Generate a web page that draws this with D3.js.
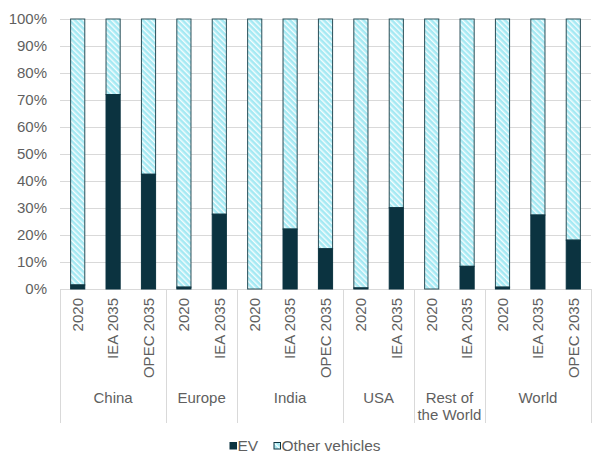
<!DOCTYPE html>
<html><head><meta charset="utf-8">
<script src="https://cdn.jsdelivr.net/npm/d3@7"></script>
<style>body{margin:0;background:#fff}svg{display:block;font-family:"Liberation Sans",Arial,sans-serif}</style>
</head><body><svg id="c" width="614" height="466"></svg>
<script>
const groups = ["China","Europe","India","USA","Rest of the World","World"];
const groupBars = [["2020","IEA 2035","OPEC 2035"],["2020","IEA 2035"],["2020","IEA 2035","OPEC 2035"],["2020","IEA 2035"],["2020","IEA 2035"],["2020","IEA 2035","OPEC 2035"]];
const evShare = [1.5,72,42.5, 0.7,27.7, 0,22.2,14.9, 0.4,30.1, 0,8.4, 0.7,27.4,18.1];
const yTicks = [0,10,20,30,40,50,60,70,80,90,100];
const seriesNames = ["EV","Other vehicles"];

const bars = [];
groups.forEach((g,gi)=>groupBars[gi].forEach(l=>bars.push({g,gi,label:l,id:g+"|"+l})));
bars.forEach((b,i)=>{b.ev=evShare[i];b.other=100-evShare[i];});

const svg = d3.select("#c");
const L=60,R=591,T=19,B=289;
const x = d3.scaleBand().domain(bars.map(b=>b.id)).range([L,R]).paddingInner(0.6).paddingOuter(0.3);
const y = d3.scaleLinear().domain([0,100]).range([B,T]);
const evColor="#0b3340", otherColor="#a5e9f3", textColor="#5f5f5f", gridColor="#d9d9d9";
const fs=15;

const defs=svg.append("defs");
const pat=defs.append("pattern").attr("id","hatch").attr("patternUnits","userSpaceOnUse")
 .attr("width",4).attr("height",4).attr("patternTransform","rotate(-45)");
pat.append("rect").attr("width",4).attr("height",4).attr("fill",otherColor);
pat.append("rect").attr("width",1.4).attr("height",4).attr("fill","#ffffff").attr("opacity",0.9);

// gridlines
svg.append("g").selectAll("line").data(yTicks).join("line")
 .attr("x1",L).attr("x2",R).attr("y1",d=>y(d)+0.5).attr("y2",d=>y(d)+0.5)
 .attr("stroke",gridColor).attr("stroke-width",1);
// y labels
svg.append("g").selectAll("text").data(yTicks).join("text")
 .attr("x",47).attr("y",d=>y(d)).attr("dy","0.35em").attr("text-anchor","end")
 .attr("font-size",fs).attr("fill",textColor).text(d=>d+"%");

// bars
const bw=x.bandwidth();
const bg=svg.append("g");
bg.selectAll("rect.o").data(bars).join("rect").attr("class","o")
 .attr("x",d=>x(d.id)).attr("width",bw).attr("y",d=>y(100)).attr("height",d=>y(d.ev)-y(100))
 .attr("fill","url(#hatch)").attr("stroke","#2a4e57").attr("stroke-width",1);
bg.selectAll("rect.e").data(bars.filter(b=>b.ev>0)).join("rect").attr("class","e")
 .attr("x",d=>x(d.id)).attr("width",bw).attr("y",d=>y(d.ev)).attr("height",d=>y(0)-y(d.ev))
 .attr("fill",evColor).attr("stroke",evColor).attr("stroke-width",1);

// group separators
const step=x.step(), off=(step-bw)/2;
const bounds=[];
groups.forEach((g,gi)=>{const bs=bars.filter(b=>b.gi===gi);bounds.push({g,x0:x(bs[0].id)-off,x1:x(bs[bs.length-1].id)+bw+off});});
const sepX=[bounds[0].x0].concat(bounds.map(b=>b.x1));
svg.append("g").selectAll("line").data(sepX).join("line")
 .attr("x1",d=>Math.round(d)+0.5).attr("x2",d=>Math.round(d)+0.5).attr("y1",B).attr("y2",423)
 .attr("stroke",gridColor).attr("stroke-width",1);

// bar labels (rotated)
svg.append("g").selectAll("text").data(bars).join("text")
 .attr("transform",d=>`translate(${x(d.id)+bw/2},298) rotate(-90)`)
 .attr("text-anchor","end").attr("dy","0.35em").attr("font-size",fs).attr("fill",textColor).text(d=>d.label);

// group labels
const gl=svg.append("g").selectAll("text").data(bounds).join("text")
 .attr("x",d=>(d.x0+d.x1)/2).attr("y",398)
 .attr("text-anchor","middle").attr("font-size",fs).attr("fill",textColor);
gl.each(function(d){
 const t=d3.select(this);
 if(d.g==="Rest of the World"){
  t.append("tspan").attr("x",(d.x0+d.x1)/2).attr("dy","0.35em").text("Rest of");
  t.append("tspan").attr("x",(d.x0+d.x1)/2).attr("dy","1.12em").text("the World");
 } else t.append("tspan").attr("dy","0.35em").text(d.g);
});

// legend
const lg=svg.append("g");
const items=[{n:seriesNames[0],x:230,f:evColor},{n:seriesNames[1],x:274,f:"url(#hatch)"}];
items.forEach(it=>{
 lg.append("rect").attr("x",it.x).attr("y",442.5).attr("width",6.5).attr("height",6.5)
  .attr("fill",it.f).attr("stroke",evColor).attr("stroke-width",1);
 lg.append("text").attr("x",it.x+7.5).attr("y",446).attr("dy","0.35em").attr("font-size",15.5)
  .attr("fill",textColor).text(it.n);
});
</script></body></html>
